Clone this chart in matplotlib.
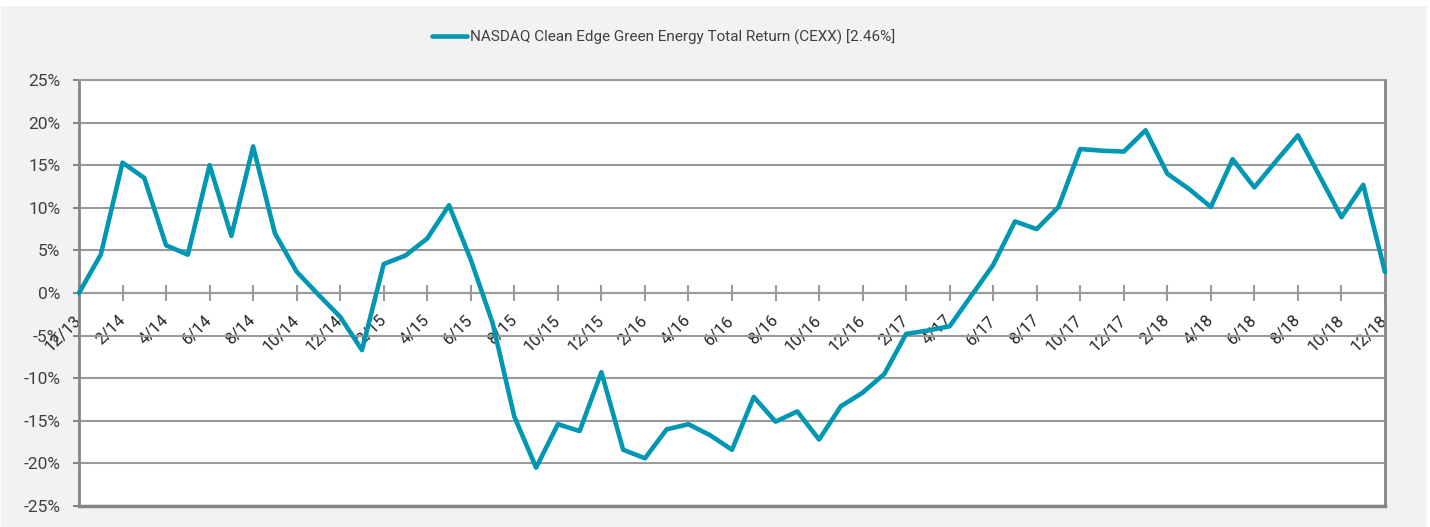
import matplotlib
matplotlib.use('Agg')
import matplotlib.pyplot as plt
from matplotlib.patches import Rectangle
from matplotlib.font_manager import FontProperties

months = ['12/13',
          '1/14', '2/14', '3/14', '4/14', '5/14', '6/14', '7/14', '8/14', '9/14', '10/14', '11/14', '12/14',
          '1/15', '2/15', '3/15', '4/15', '5/15', '6/15', '7/15', '8/15', '9/15', '10/15', '11/15', '12/15',
          '1/16', '2/16', '3/16', '4/16', '5/16', '6/16', '7/16', '8/16', '9/16', '10/16', '11/16', '12/16',
          '1/17', '2/17', '3/17', '4/17', '5/17', '6/17', '7/17', '8/17', '9/17', '10/17', '11/17', '12/17',
          '1/18', '2/18', '3/18', '4/18', '5/18', '6/18', '7/18', '8/18', '9/18', '10/18', '11/18', '12/18']

returns = [0.0,
           4.5, 15.3, 13.5, 5.6, 4.5, 15.0, 6.7, 17.2, 7.0, 2.5, -0.2, -2.8,
           -6.7, 3.4, 4.4, 6.4, 10.3, 3.9, -3.5, -14.5, -20.5, -15.4, -16.2, -9.3,
           -18.4, -19.4, -16.0, -15.4, -16.7, -18.4, -12.2, -15.1, -13.9, -17.2, -13.3, -11.7,
           -9.5, -4.8, -4.4, -3.9, -0.3, 3.3, 8.4, 7.5, 10.1, 16.9, 16.7, 16.6,
           19.1, 14.0, 12.2, 10.1, 15.7, 12.4, 15.5, 18.5, 13.7, 8.9, 12.7, 2.46]

series_name = 'NASDAQ Clean Edge Green Energy Total Return (CEXX) [2.46%]'
y_ticks = [-25, -20, -15, -10, -5, 0, 5, 10, 15, 20, 25]
y_tick_labels = ['-25%', '-20%', '-15%', '-10%', '-5%', '0%', '5%', '10%', '15%', '20%', '25%']
x_tick_labels = months[::2]

LINE_COLOR = '#0097B2'
GRID = '#9a9a9a'
FRAME = '#858585'

fig = plt.figure(figsize=(14.3, 5.27), dpi=100, facecolor='white')
fig.add_artist(Rectangle((1 / 1430, 0), 1426 / 1430, 521 / 527, transform=fig.transFigure,
                         facecolor='#f2f2f2', edgecolor='none', zorder=-10))

ax = fig.add_axes([79 / 1430, 1 - 506 / 527, (1385 - 79) / 1430, (506 - 80) / 527])
ax.set_facecolor('white')

# spine placement first (it resets the ticks)
ax.spines['bottom'].set_position(('data', 0))
ax.spines['bottom'].set_color(GRID)
ax.spines['bottom'].set_linewidth(1.5)
ax.spines['top'].set_color(GRID)
ax.spines['top'].set_linewidth(1.5)
for s in ('left', 'right'):
    ax.spines[s].set_color(FRAME)
    ax.spines[s].set_linewidth(2)

x = list(range(len(returns)))
line, = ax.plot(x, returns, color=LINE_COLOR, lw=3.3, solid_capstyle='round',
                solid_joinstyle='round', zorder=5, clip_on=False)

ax.set_xlim(0, len(returns) - 1)
ax.set_ylim(-25, 25)
ax.axhline(-25, color=FRAME, lw=2.5, clip_on=False, zorder=4)

ax.tick_params(axis='x', direction='inout', length=12, width=1.5, color=GRID, pad=12)
ax.tick_params(axis='y', direction='out', length=4.5, width=1.5, color=FRAME, pad=9)

ytick_font = FontProperties(family=['Roboto', 'DejaVu Sans'], weight='normal', size=12.5)
xtick_font = FontProperties(family=['Roboto', 'DejaVu Sans'], weight='normal', size=12)

ax.set_yticks(y_ticks)
ax.set_yticklabels(y_tick_labels, fontproperties=ytick_font, color='#404040')
ax.yaxis.grid(True, color=GRID, lw=1.5)
ax.set_axisbelow(True)

ax.set_xticks(x[::2])
ax.set_xticklabels(x_tick_labels, fontproperties=xtick_font, color='#262626',
                   rotation=45, ha='right', va='center', rotation_mode='anchor')

leg_font = FontProperties(family=['Roboto', 'DejaVu Sans'], weight='normal', size=11)
fig.legend(handles=[line], labels=[series_name], loc='center left',
           bbox_to_anchor=(432 / 1430, 1 - 37 / 527), frameon=False,
           handlelength=2.3, handletextpad=0.2, borderpad=0, borderaxespad=0,
           prop=leg_font, labelcolor='#404040')

fig.savefig('out.png', dpi=100, facecolor=fig.get_facecolor())
